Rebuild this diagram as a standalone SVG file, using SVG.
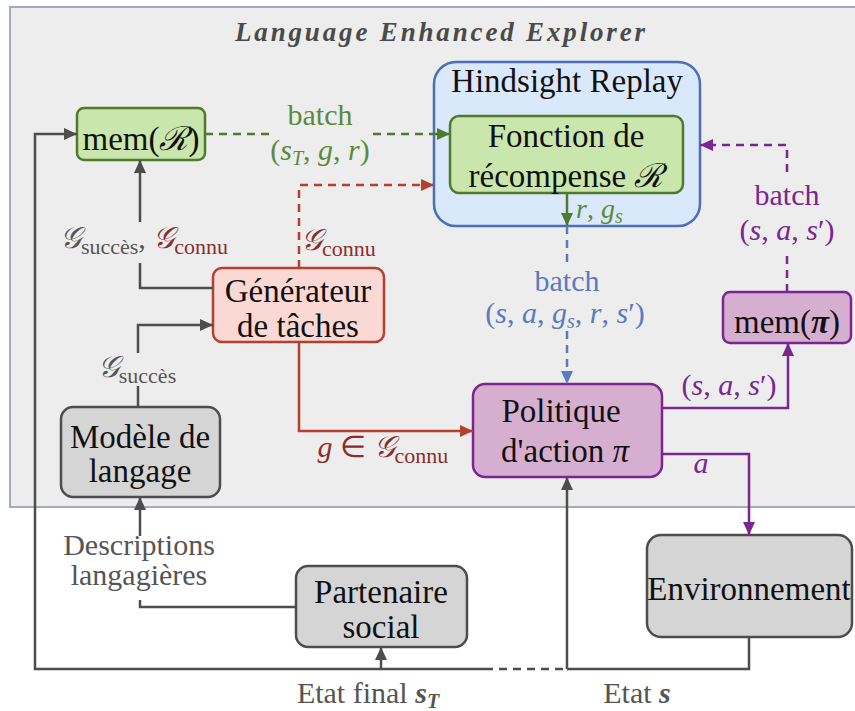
<svg xmlns="http://www.w3.org/2000/svg" width="855" height="711" viewBox="0 0 855 711" font-family="Liberation Serif, serif">
<style>
.dummy { opacity: 1; }
.node { font-size: 33px; fill: #111; text-anchor: middle; }
.lbl { font-size: 30px; text-anchor: middle; }
.it { font-style: italic; }
.gray { fill: #555; }
.grn { fill: #5b8a3a; }
.blu { fill: #5a7bbf; }
.pur { fill: #7b2592; }
.mar { fill: #8b2d2d; }
.c { fill: none; stroke-width: 2.5; }
.cg { stroke: #4d4d4d; }
.cgr { stroke: #4f7a2e; }
.cr { stroke: #b5402f; }
.cb { stroke: #5a7bbf; }
.cp { stroke: #7b2592; }
.d { stroke-dasharray: 8 6; }
.n { stroke-width: 2.5; }
</style>
<defs>
<marker id="ag" markerWidth="13" markerHeight="12" refX="13" refY="6" orient="auto" markerUnits="userSpaceOnUse"><path d="M0,0 L13,6 L0,12 z" fill="#4d4d4d"/></marker>
<marker id="agr" markerWidth="13" markerHeight="12" refX="13" refY="6" orient="auto" markerUnits="userSpaceOnUse"><path d="M0,0 L13,6 L0,12 z" fill="#4f7a2e"/></marker>
<marker id="ar" markerWidth="13" markerHeight="12" refX="13" refY="6" orient="auto" markerUnits="userSpaceOnUse"><path d="M0,0 L13,6 L0,12 z" fill="#b5402f"/></marker>
<marker id="ab" markerWidth="13" markerHeight="12" refX="13" refY="6" orient="auto" markerUnits="userSpaceOnUse"><path d="M0,0 L13,6 L0,12 z" fill="#5a7bbf"/></marker>
<marker id="ap" markerWidth="13" markerHeight="12" refX="13" refY="6" orient="auto" markerUnits="userSpaceOnUse"><path d="M0,0 L13,6 L0,12 z" fill="#7b2592"/></marker>
</defs>
<rect x="0" y="0" width="855" height="711" fill="#ffffff"/>
<g id="explorer">
<rect x="10" y="7" width="852" height="500" fill="#ededed" stroke="#a3acb9" stroke-width="2"/>
<text x="440" y="41" font-family="Liberation Serif" text-anchor="middle" font-size="27" font-weight="bold" font-style="italic" fill="#4a4a4a" textLength="410" lengthAdjust="spacing">Language Enhanced Explorer</text>
</g>
<g id="hindsight">
<rect x="434" y="62" width="266" height="164" rx="22" fill="#dae8fc" stroke="#4a6fb5" class="n"/>
<text x="567" y="92" font-family="Liberation Serif" class="node">Hindsight Replay</text>
</g>
<g id="mem-r">
<rect x="77" y="108" width="128" height="52" rx="7" fill="#c9e6ac" stroke="#4f7a2e" class="n"/>
<text x="141" y="150" font-family="Liberation Serif" class="node">mem(<tspan class="it">ℛ</tspan>)</text>
</g>
<g id="fonction">
<rect x="450" y="116" width="233" height="77" rx="9" fill="#c9e6ac" stroke="#4f7a2e" class="n"/>
<text x="566" y="147" font-family="Liberation Serif" class="node">Fonction de</text>
<text x="566" y="187" font-family="Liberation Serif" class="node">récompense <tspan class="it">ℛ</tspan></text>
</g>
<g id="generateur">
<rect x="213" y="268" width="171" height="74" rx="9" fill="#fad9d5" stroke="#b5402f" class="n"/>
<text x="298" y="302" font-family="Liberation Serif" class="node">Générateur</text>
<text x="298" y="337" font-family="Liberation Serif" class="node">de tâches</text>
</g>
<g id="modele">
<rect x="61" y="407" width="159" height="90" rx="12" fill="#d5d5d5" stroke="#4d4d4d" class="n"/>
<text x="140" y="448" font-family="Liberation Serif" class="node">Modèle de</text>
<text x="140" y="482" font-family="Liberation Serif" class="node">langage</text>
</g>
<g id="politique">
<rect x="473" y="384" width="189" height="93" rx="12" fill="#d6aecf" stroke="#7b2592" class="n"/>
<text x="561" y="422" font-family="Liberation Serif" class="node">Politique</text>
<text x="565" y="462" font-family="Liberation Serif" class="node">d'action <tspan class="it">π</tspan></text>
</g>
<g id="mem-pi">
<rect x="723" y="292" width="128" height="51" rx="7" fill="#d6aecf" stroke="#7b2592" class="n"/>
<text x="787" y="333" font-family="Liberation Serif" class="node">mem(<tspan font-weight="bold" class="it">π</tspan>)</text>
</g>
<g id="environnement">
<rect x="647" y="535" width="205" height="102" rx="14" fill="#d5d5d5" stroke="#4d4d4d" class="n"/>
<text x="749" y="600" font-family="Liberation Serif" class="node">Environnement</text>
</g>
<g id="partenaire">
<rect x="296" y="566" width="171" height="81" rx="12" fill="#d5d5d5" stroke="#4d4d4d" class="n"/>
<text x="381" y="603" font-family="Liberation Serif" class="node">Partenaire</text>
<text x="381" y="638" font-family="Liberation Serif" class="node">social</text>
</g>
<g id="connectors">
<path class="c cg" d="M485,669 H35 V134 H77" marker-end="url(#ag)"/>
<path class="c cg d" d="M485,669 H567"/>
<path class="c cg" d="M567,669 H749 V637"/>
<path class="c cg" d="M567,669 V477" marker-end="url(#ag)"/>
<path class="c cg" d="M381,669 V647" marker-end="url(#ag)"/>
<path class="c cg" d="M296,607 H140 V600"/>
<path class="c cg" d="M140,536 V497" marker-end="url(#ag)"/>
<path class="c cg" d="M138,407 V386"/>
<path class="c cg" d="M138,353 V325 H213" marker-end="url(#ag)"/>
<path class="c cg" d="M213,288 H140 V263"/>
<path class="c cg" d="M140,222 V160" marker-end="url(#ag)"/>
<path class="c cr" d="M299,342 V431 H473" marker-end="url(#ar)"/>
<path class="c cr d" d="M299,268 V185 H434" marker-end="url(#ar)"/>
<path class="c cgr d" d="M205,134 H272"/>
<path class="c cgr d" d="M373,134 H450" marker-end="url(#agr)"/>
<path class="c cgr" d="M567,193 V226" marker-end="url(#agr)"/>
<path class="c cb d" d="M567,226 V268"/>
<path class="c cb d" d="M567,331 V384" marker-end="url(#ab)"/>
<path class="c cp d" d="M787,292 V250"/>
<path class="c cp d" d="M787,172 V145 H700" marker-end="url(#ap)"/>
<path class="c cp" d="M662,408 H788 V343" marker-end="url(#ap)"/>
<path class="c cp" d="M662,454 H749 V535" marker-end="url(#ap)"/>
</g>
<g id="labels">
<text x="320" y="125" font-family="Liberation Serif" class="lbl grn">batch</text>
<text x="320" y="160" font-family="Liberation Serif" class="lbl grn">(<tspan class="it">s</tspan><tspan class="it" font-size="20" dy="5">T</tspan><tspan dy="-5">, </tspan><tspan class="it">g</tspan>, <tspan class="it">r</tspan>)</text>
<text x="576" y="218" font-family="Liberation Serif" font-size="28" class="grn it">r<tspan font-style="normal">, </tspan>g<tspan font-size="20" dy="5">s</tspan></text>
<text x="567" y="291" font-family="Liberation Serif" class="lbl blu">batch</text>
<text x="565" y="323" font-family="Liberation Serif" class="lbl blu">(<tspan class="it">s</tspan>, <tspan class="it">a</tspan>, <tspan class="it">g</tspan><tspan class="it" font-size="20" dy="5">s</tspan><tspan dy="-5">, </tspan><tspan class="it">r</tspan>, <tspan class="it">s</tspan>′)</text>
<text x="787" y="205" font-family="Liberation Serif" class="lbl pur">batch</text>
<text x="787" y="240" font-family="Liberation Serif" class="lbl pur">(<tspan class="it">s</tspan>, <tspan class="it">a</tspan>, <tspan class="it">s</tspan>′)</text>
<text x="729" y="395" font-family="Liberation Serif" class="lbl pur">(<tspan class="it">s</tspan>, <tspan class="it">a</tspan>, <tspan class="it">s</tspan>′)</text>
<text x="701" y="473" font-family="Liberation Serif" class="lbl pur it">a</text>
<text x="383" y="457" font-family="Liberation Serif" class="lbl mar"><tspan class="it">g</tspan> ∈ <tspan class="it">𝒢</tspan><tspan font-size="22" dy="6">connu</tspan></text>
<text x="301" y="250" font-family="Liberation Serif" class="mar" font-size="30"><tspan class="it">𝒢</tspan><tspan font-size="22" dy="6">connu</tspan></text>
<text x="144" y="248" font-family="Liberation Serif" class="lbl"><tspan class="it gray">𝒢</tspan><tspan class="gray" font-size="22" dy="6">succès</tspan><tspan class="gray" dy="-6">, </tspan><tspan class="it mar">𝒢</tspan><tspan class="mar" font-size="22" dy="6">connu</tspan></text>
<text x="137" y="377" font-family="Liberation Serif" class="lbl gray"><tspan class="it">𝒢</tspan><tspan font-size="22" dy="6">succès</tspan></text>
<text x="139" y="555" font-family="Liberation Serif" class="lbl gray">Descriptions</text>
<text x="139" y="585" font-family="Liberation Serif" class="lbl gray">langagières</text>
<text x="368" y="703" font-family="Liberation Serif" class="lbl gray">Etat final <tspan class="it" font-weight="bold">s</tspan><tspan class="it" font-weight="bold" font-size="20" dy="5">T</tspan></text>
<text x="637" y="703" font-family="Liberation Serif" class="lbl gray">Etat <tspan class="it" font-weight="bold">s</tspan></text>
</g>
</svg>
